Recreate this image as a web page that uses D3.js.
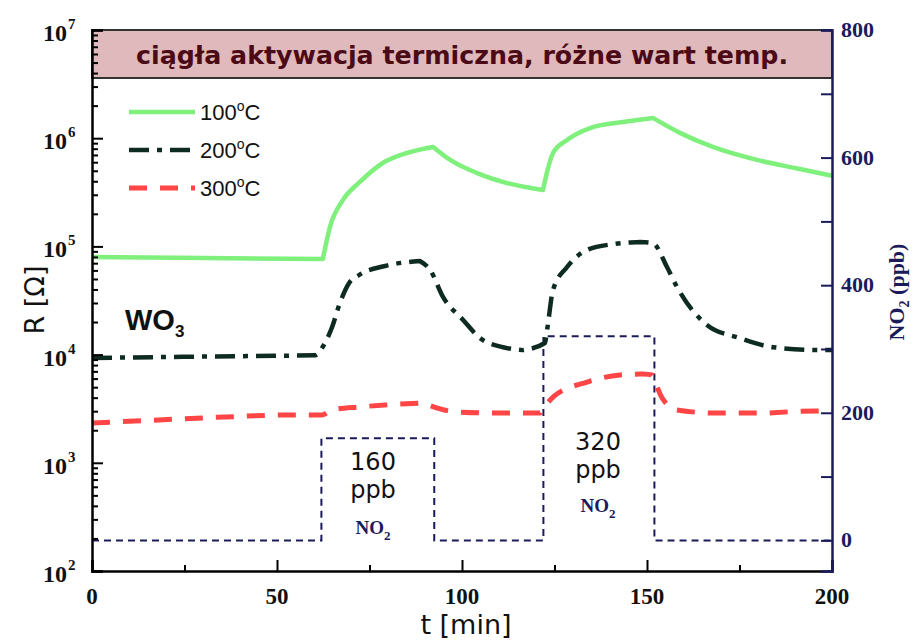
<!DOCTYPE html>
<html>
<head>
<meta charset="utf-8">
<script src="https://cdn.jsdelivr.net/npm/d3@7"></script>
<style>
  html, body { margin: 0; padding: 0; background: #fff; }
  svg { display: block; }
</style>
</head>
<body>
<svg id="chart" width="917" height="640"></svg>
<script>
// Resistance of the WO3 sensor (Ohm) vs time (min) at three heater temperatures
const series100 = [
  [0, 80000], [30, 78000], [62.4, 76500], [64.3, 151000], [67.8, 268000],
  [72.4, 394000], [78.6, 590000], [85.1, 730000], [92.2, 830000],
  [96.8, 630000], [104.1, 476000], [112.2, 385000], [121.9, 332000],
  [123.2, 520000], [124.6, 730000], [128.4, 962000], [134.6, 1240000],
  [143.5, 1410000], [151.6, 1540000], [158.9, 1120000], [167.8, 830000],
  [179.7, 630000], [190, 530000], [200, 450000]
];
const series200 = [
  [0, 9300], [30, 9600], [60.3, 9870], [62.5, 12000], [64.9, 18000],
  [67.0, 30000], [69.5, 45900], [72.2, 54400], [79.2, 65900], [88.6, 73300],
  [91.4, 60500], [94.9, 34000], [100.3, 20900], [104.9, 14200],
  [111.1, 11700], [116.5, 11000], [122.4, 12800], [123.0, 16900],
  [124.6, 39500], [128.4, 64500], [133.8, 92700], [140.8, 105000],
  [148.1, 110000], [151.6, 107000], [155.4, 64500], [158.1, 42200],
  [166.2, 18800], [175.1, 14200], [184.1, 11700], [196.8, 11000], [200, 11000]
];
const series300 = [
  [0, 2330], [18.1, 2490], [36, 2650], [54.1, 2770], [62.2, 2770],
  [64.9, 3080], [72.2, 3280], [79.2, 3420], [89.5, 3570], [98.6, 2950],
  [110.3, 2880], [121.1, 2880], [124.6, 4050], [133.8, 5580], [142.7, 6480],
  [148.9, 6610], [151.4, 6480], [152.2, 5580], [154.1, 3970], [158.1, 3080],
  [168.9, 2880], [182.4, 2880], [195.9, 3010], [200, 3010]
];

// NO2 dosing profile (ppb), step changes at the listed times
const no2Time = [0, 62, 92.5, 122, 152, 200];
const no2Ppb  = [0, 160, 0, 320, 0, 0];

const xTicks = [0, 50, 100, 150, 200];
const xMinorTicks = [25, 75, 125, 175];
const rDecades = [2, 3, 4, 5, 6, 7];
const no2Ticks = [0, 200, 400, 600, 800];
const no2MinorTicks = [100, 300, 500, 700];
const legendLabels = ["100", "200", "300"];
const titleText = "ciągła aktywacja termiczna, różne wart temp.";

const svg = d3.select("#chart");
const L = 92, R = 832, T = 30, B = 571;
const navy = "#1b1b5c";
const serif = "'Liberation Serif', 'Times New Roman', serif";
const sans = "'DejaVu Sans', Verdana, sans-serif";

const x = d3.scaleLinear().domain([0, 200]).range([L, R]);
const y = d3.scaleLog().domain([100, 1e7]).range([B, T]);
const y2 = d3.scaleLinear().domain([-48, 800]).range([B, T]);

// Title box
svg.append("rect").attr("x", L).attr("y", T).attr("width", R - L).attr("height", 48)
  .attr("fill", "#e0b9bd").attr("stroke", "#333").attr("stroke-width", 2);
svg.append("text").attr("x", (L + R) / 2).attr("y", 64)
  .attr("text-anchor", "middle").attr("font-family", sans).attr("font-weight", "bold")
  .attr("font-size", 25).attr("fill", "#4b0a16")
  .attr("textLength", 652).attr("lengthAdjust", "spacingAndGlyphs")
  .text(titleText);

// NO2 step profile
const no2Data = no2Time.map((t, i) => [t, no2Ppb[i]]);
svg.append("path").datum(no2Data)
  .attr("fill", "none").attr("stroke", navy).attr("stroke-width", 2)
  .attr("stroke-dasharray", "7,5")
  .attr("d", d3.line().x(d => x(d[0])).y(d => y2(d[1])).curve(d3.curveStepAfter));

// Smooth each rising/falling run, keeping sharp corners where the trend reverses
const smoothLine = d3.line().x(d => x(d[0])).y(d => y(d[1])).curve(d3.curveMonotoneX);
function cuspPath(data) {
  const runs = [];
  let run = [data[0]], dir = 0;
  for (let i = 1; i < data.length; i++) {
    const d = Math.sign(data[i][1] - data[i - 1][1]);
    if (dir !== 0 && d !== 0 && d !== dir) {
      runs.push(run);
      run = [data[i - 1]];
    }
    if (d !== 0) dir = d;
    run.push(data[i]);
  }
  runs.push(run);
  return runs.map((r, i) => {
    const s = smoothLine(r);
    return i === 0 ? s : "L" + s.slice(1);
  }).join("");
}

const styles = [
  { data: series100, color: "#7ff07c", dash: null, width: 4.5 },
  { data: series200, color: "#0e2b22", dash: "20,8,5,8", width: 4.5 },
  { data: series300, color: "#ff4545", dash: "18,13", width: 5 }
];
styles.forEach(s => {
  svg.append("path")
    .attr("fill", "none").attr("stroke", s.color).attr("stroke-width", s.width)
    .attr("stroke-dasharray", s.dash).attr("stroke-linejoin", "round")
    .attr("d", cuspPath(s.data));
});

// Left axis (log) with inward ticks and power-of-ten labels
const majorR = rDecades.map(p => Math.pow(10, p));
const minorR = [];
rDecades.slice(0, -1).forEach(p => { for (let k = 2; k <= 9; k++) minorR.push(k * Math.pow(10, p)); });
svg.append("g").attr("transform", `translate(${L},0)`)
  .call(d3.axisLeft(y).tickValues(majorR).tickSize(-11).tickFormat(""));
svg.append("g").attr("transform", `translate(${L},0)`)
  .call(d3.axisLeft(y).tickValues(minorR).tickSize(-6).tickFormat(""))
  .call(g => g.select(".domain").remove());
rDecades.forEach(p => {
  svg.append("text").attr("x", 67).attr("y", y(Math.pow(10, p)) + 11)
    .attr("text-anchor", "end").attr("font-family", serif).attr("font-weight", "bold")
    .attr("font-size", 24).attr("fill", "#111").text("10");
  svg.append("text").attr("x", 68).attr("y", y(Math.pow(10, p)) - 1)
    .attr("font-family", serif).attr("font-weight", "bold").attr("font-size", 15)
    .attr("fill", "#111").text(p);
});

// Bottom axis
svg.append("g").attr("transform", `translate(0,${B})`)
  .call(d3.axisBottom(x).tickValues(xTicks).tickSize(-11).tickFormat(""));
svg.append("g").attr("transform", `translate(0,${B})`)
  .call(d3.axisBottom(x).tickValues(xMinorTicks).tickSize(-6).tickFormat(""))
  .call(g => g.select(".domain").remove());
xTicks.forEach(v => {
  svg.append("text").attr("x", x(v)).attr("y", 604).attr("text-anchor", "middle")
    .attr("font-family", serif).attr("font-weight", "bold").attr("font-size", 23)
    .attr("fill", "#111").text(v);
});

// Right axis (NO2)
const gR = svg.append("g").attr("transform", `translate(${R},0)`)
  .call(d3.axisRight(y2).tickValues(no2Ticks).tickSize(-11).tickFormat(""));
const gR2 = svg.append("g").attr("transform", `translate(${R},0)`)
  .call(d3.axisRight(y2).tickValues(no2MinorTicks).tickSize(-11).tickFormat(""));
gR2.select(".domain").remove();
[gR, gR2].forEach(g => g.selectAll("path, line").attr("stroke", navy));
no2Ticks.forEach(v => {
  svg.append("text").attr("x", 841).attr("y", y2(v) + 7)
    .attr("font-family", serif).attr("font-weight", "bold").attr("font-size", 22)
    .attr("fill", navy).text(v);
});

// Axis line weights
svg.selectAll(".domain").attr("stroke-width", 2.5);
svg.selectAll(".tick line").attr("stroke-width", 2);

// Axis titles
svg.append("text").attr("transform", "translate(44,300) rotate(-90)")
  .attr("text-anchor", "middle").attr("font-family", sans).attr("font-size", 27)
  .attr("fill", "#111").text("R [Ω]");
svg.append("text").attr("x", 466).attr("y", 634).attr("text-anchor", "middle")
  .attr("font-family", sans).attr("font-size", 27).attr("fill", "#111").text("t [min]");
const rt = svg.append("text").attr("transform", "translate(904,292) rotate(-90)")
  .attr("text-anchor", "middle").attr("font-family", serif).attr("font-weight", "bold")
  .attr("font-size", 22).attr("fill", navy);
rt.append("tspan").text("NO");
rt.append("tspan").attr("font-size", 14).attr("dy", 5).text("2");
rt.append("tspan").attr("dy", -5).text(" (ppb)");

// Legend
styles.forEach((s, i) => {
  const ly = 112 + i * 38;
  svg.append("line").attr("x1", 129).attr("x2", 195).attr("y1", ly).attr("y2", ly)
    .attr("stroke", s.color).attr("stroke-width", s.width)
    .attr("stroke-dasharray", s.dash);
  const t = svg.append("text").attr("x", 200).attr("y", ly + 8)
    .attr("font-family", "'Liberation Sans', Arial, sans-serif").attr("font-size", 22).attr("fill", "#111");
  t.append("tspan").text(legendLabels[i]);
  t.append("tspan").attr("font-size", 14).attr("dy", -9).text("o");
  t.append("tspan").attr("dy", 9).text("C");
});

// Material label
const wo = svg.append("text").attr("x", 125).attr("y", 330)
  .attr("font-family", "'Liberation Sans', Arial, sans-serif").attr("font-weight", "bold")
  .attr("font-size", 29).attr("fill", "#111");
wo.append("tspan").text("WO");
wo.append("tspan").attr("font-size", 17).attr("dy", 7).text("3");

// Concentration annotations
function pulseLabel(cx, numY, val, no2Y) {
  [[String(val), numY], ["ppb", numY + 28]].forEach(([txt, yy]) => {
    svg.append("text").attr("x", cx).attr("y", yy).attr("text-anchor", "middle")
      .attr("font-family", sans).attr("font-size", 24).attr("fill", "#111").text(txt);
  });
  const n = svg.append("text").attr("x", cx).attr("y", no2Y).attr("text-anchor", "middle")
    .attr("font-family", serif).attr("font-weight", "bold").attr("font-size", 19).attr("fill", navy);
  n.append("tspan").text("NO");
  n.append("tspan").attr("font-size", 13).attr("dy", 6).text("2");
}
pulseLabel(373, 470, no2Ppb[1], 534);
pulseLabel(598, 450, no2Ppb[3], 512);
</script>
</body>
</html>
